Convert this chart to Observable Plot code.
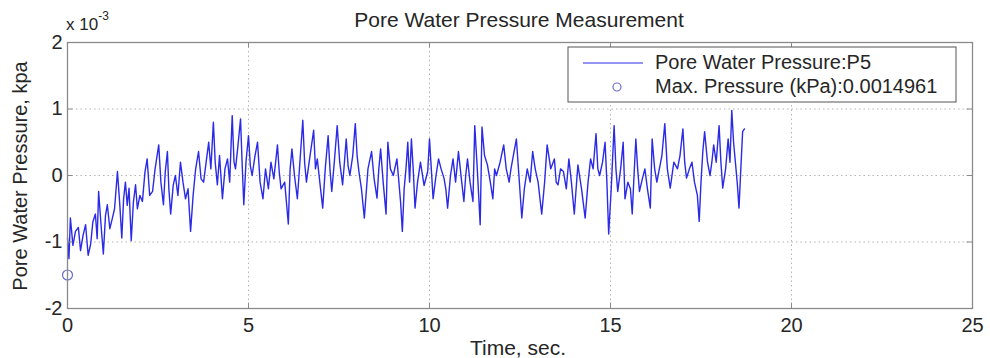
<!DOCTYPE html>
<html>
<head>
<meta charset="utf-8">
<script src="https://cdn.jsdelivr.net/npm/d3@7"></script>
<script src="https://cdn.jsdelivr.net/npm/@observablehq/plot@0.6"></script>
<style>
  html, body { margin: 0; padding: 0; background: #fff; }
  #chart { width: 990px; height: 358px; overflow: hidden; }
  svg text { font-family: "Liberation Sans", Arial, sans-serif; }
</style>
</head>
<body>
<div id="chart"></div>
<script>
// ---- data (pressure in units of 1e-3 kPa) ----
const timeSec = [
 0.00,0.04,0.08,0.15,0.22,0.30,0.36,0.43,0.50,0.57,0.64,0.70,0.77,0.82,0.86,0.92,0.99,1.05,1.10,1.17,
 1.24,1.30,1.38,1.44,1.50,1.55,1.60,1.65,1.70,1.76,1.82,1.88,1.93,2.00,2.07,2.14,2.20,2.27,2.35,2.42,
 2.52,2.58,2.65,2.70,2.76,2.80,2.85,2.92,2.98,3.05,3.12,3.19,3.26,3.33,3.40,3.47,3.54,3.62,3.69,3.76,
 3.83,3.90,3.96,4.03,4.08,4.14,4.20,4.28,4.35,4.42,4.48,4.55,4.60,4.64,4.70,4.78,4.83,4.87,4.93,5.00,
 5.05,5.10,5.18,5.25,5.32,5.40,5.47,5.55,5.62,5.70,5.80,5.85,5.90,6.00,6.10,6.15,6.20,6.27,6.35,6.42,
 6.50,6.55,6.60,6.70,6.80,6.85,6.90,6.97,7.05,7.12,7.20,7.25,7.30,7.37,7.45,7.52,7.60,7.65,7.70,7.75,
 7.80,7.88,7.95,8.00,8.05,8.12,8.20,8.30,8.40,8.47,8.55,8.60,8.65,8.72,8.80,8.85,8.92,9.00,9.10,9.20,
 9.25,9.30,9.35,9.40,9.45,9.50,9.55,9.60,9.67,9.75,9.85,9.95,10.00,10.05,10.10,10.18,10.25,10.32,10.40,10.45,
 10.50,10.58,10.65,10.72,10.80,10.88,10.95,11.00,11.05,11.12,11.20,11.25,11.32,11.40,11.45,11.52,11.60,11.68,11.75,11.80,
 11.85,11.95,12.05,12.12,12.20,12.25,12.30,12.40,12.47,12.55,12.62,12.70,12.78,12.85,12.92,13.00,13.10,13.18,13.25,13.35,
 13.45,13.50,13.55,13.62,13.70,13.78,13.85,13.92,14.00,14.05,14.10,14.20,14.30,14.38,14.45,14.52,14.60,14.65,14.70,14.78,
 14.85,14.90,14.95,15.02,15.10,15.15,15.20,15.28,15.35,15.40,15.48,15.55,15.60,15.65,15.70,15.75,15.80,15.88,15.95,16.02,
 16.10,16.15,16.22,16.28,16.35,16.42,16.50,16.57,16.65,16.75,16.85,16.92,17.00,17.05,17.10,17.18,17.25,17.32,17.40,17.45,
 17.50,17.55,17.60,17.68,17.75,17.80,17.85,17.92,18.00,18.05,18.10,18.18,18.25,18.30,18.35,18.40,18.45,18.50,18.55,18.60,
 18.65,18.70
];
const pressureE3 = [
 -0.94,-1.25,-0.64,-1.05,-0.84,-0.78,-1.13,-0.90,-0.74,-1.20,-1.03,-0.70,-0.58,-0.95,-0.24,-0.70,-1.18,-0.60,-0.44,-0.80,
 -0.64,-0.50,0.06,-0.40,-0.94,-0.35,-0.10,-0.45,-0.19,-0.98,-0.40,-0.14,-0.50,-0.30,-0.39,0.05,0.25,-0.30,-0.24,0.10,
 0.46,-0.10,-0.44,0.05,0.36,-0.20,-0.58,-0.15,0.00,-0.30,0.20,-0.10,-0.35,-0.20,-0.84,-0.30,0.10,0.36,-0.05,-0.10,
 0.20,0.50,0.10,0.80,0.20,-0.14,0.30,-0.35,0.10,0.25,-0.10,0.90,0.20,0.10,0.40,0.85,0.10,-0.44,0.20,0.60,
 0.15,0.00,0.30,0.50,-0.10,-0.35,0.10,-0.20,0.20,-0.05,0.46,0.05,-0.20,-0.10,-0.73,0.10,0.40,0.00,-0.35,0.20,
 0.83,0.20,-0.10,0.30,0.68,0.10,0.25,-0.10,-0.49,0.10,0.60,0.10,-0.24,0.20,0.75,0.20,-0.14,0.20,0.55,0.15,
 0.00,0.30,0.78,0.30,0.06,-0.20,-0.64,0.10,0.36,-0.05,-0.34,0.10,0.40,-0.10,-0.58,0.50,0.10,0.00,0.25,-0.39,
 -0.84,-0.20,0.10,0.50,-0.10,0.55,0.10,-0.49,-0.10,0.20,-0.15,0.06,0.55,0.10,-0.35,0.00,0.25,0.10,-0.04,-0.20,
 -0.49,0.00,0.25,-0.10,0.36,-0.05,-0.39,0.00,0.25,-0.10,-0.39,0.75,0.10,-0.74,0.73,0.30,0.16,-0.10,-0.35,0.10,
 0.00,0.20,0.46,0.10,-0.10,0.10,0.25,0.55,0.00,-0.64,-0.20,0.10,-0.10,0.36,0.10,-0.10,-0.58,-0.10,0.46,0.10,
 0.25,-0.10,-0.14,0.10,0.06,-0.20,0.25,-0.10,-0.58,-0.20,0.16,-0.20,-0.64,-0.10,0.25,0.10,0.63,0.10,0.00,0.20,
 0.50,-0.10,-0.88,-0.20,0.75,0.10,-0.24,0.10,0.50,-0.35,-0.10,-0.20,-0.58,0.00,0.55,0.10,-0.24,-0.05,0.10,-0.20,
 -0.49,0.55,0.10,-0.10,0.10,0.30,0.78,0.10,-0.19,0.20,0.10,0.30,0.70,0.20,-0.04,0.10,0.20,-0.10,-0.30,-0.69,
 -0.10,0.36,0.66,0.20,0.00,0.20,0.46,0.20,0.75,0.20,-0.19,0.10,0.55,0.20,0.98,0.50,0.20,-0.10,-0.49,0.10,
 0.66,0.70
];
const maxMarkerTime = [0];
const maxMarkerValueE3 = [-1.4961];
const xTicks = [0, 5, 10, 15, 20, 25];
const yTicks = [-2, -1, 0, 1, 2];
const titleText = "Pore Water Pressure Measurement";
const xLabel = "Time, sec.";
const yLabel = "Pore Water Pressure, kpa";
const legendLine = "Pore Water Pressure:P5";
const legendMax = "Max. Pressure (kPa):0.0014961";

const series = timeSec.map((t, i) => ({t, p: pressureE3[i]}));
const maxPts = maxMarkerTime.map((t, i) => ({t, p: maxMarkerValueE3[i]}));

const lineColor = "#2a2ae8";
const axisColor = "#8a8a8a";
const gridColor = "#b4b4b4";
const textColor = "#262626";

const chart = Plot.plot({
  width: 990,
  height: 358,
  marginLeft: 67,
  marginRight: 18,
  marginTop: 42,
  marginBottom: 50,
  style: {background: "#fff", color: textColor, fontFamily: "'Liberation Sans', Arial, sans-serif", fontSize: "20px"},
  x: {domain: [0, 25], label: null},
  y: {domain: [-2, 2], label: null},
  marks: [
    Plot.gridX(xTicks, {stroke: gridColor, strokeOpacity: 1, strokeDasharray: "1.5,3"}),
    Plot.gridY(yTicks, {stroke: gridColor, strokeOpacity: 1, strokeDasharray: "1.5,3"}),
    Plot.line(series, {x: "t", y: "p", stroke: lineColor, strokeWidth: 1.4}),
    Plot.dot(maxPts, {x: "t", y: "p", r: 5, stroke: "#6a6ad0", strokeWidth: 1.2, fill: "none"}),
    Plot.ruleX(xTicks, {y1: -2, y2: -1.92, stroke: axisColor}),
    Plot.ruleX(xTicks, {y1: 2, y2: 1.92, stroke: axisColor}),
    Plot.ruleY(yTicks, {x1: 0, x2: 0.15, stroke: axisColor}),
    Plot.ruleY(yTicks, {x1: 25, x2: 24.85, stroke: axisColor}),
    Plot.frame({stroke: axisColor, strokeWidth: 1.3}),
    Plot.axisX(xTicks, {tickSize: 0, tickPadding: 9, fontSize: 20, fill: textColor, label: null, tickFormat: d => String(d)}),
    Plot.axisY(yTicks, {tickSize: 0, tickPadding: 5, fontSize: 20, fill: textColor, label: null, tickFormat: d => String(d)})
  ]
});

const svg = d3.select(chart);
// title
svg.append("text").attr("x", 519).attr("y", 27).attr("text-anchor", "middle")
  .attr("font-size", 21).attr("fill", textColor).text(titleText);
// x label
svg.append("text").attr("x", 518).attr("y", 355).attr("text-anchor", "middle")
  .attr("font-size", 21).attr("fill", textColor).text(xLabel);
// y label
svg.append("text").attr("transform", "translate(27,176) rotate(-90)").attr("text-anchor", "middle")
  .attr("font-size", 20).attr("fill", textColor).text(yLabel);
// exponent label
const ex = svg.append("text").attr("x", 66).attr("y", 30).attr("text-anchor", "start")
  .attr("font-size", 17).attr("fill", textColor);
ex.append("tspan").text("x 10");
ex.append("tspan").attr("dy", -10).attr("font-size", 12).text("-3");
// legend
const lg = svg.append("g");
lg.append("rect").attr("x", 568).attr("y", 47).attr("width", 388).attr("height", 55)
  .attr("fill", "#fff").attr("stroke", "#555").attr("stroke-width", 1);
lg.append("line").attr("x1", 583).attr("x2", 643).attr("y1", 63).attr("y2", 63)
  .attr("stroke", lineColor).attr("stroke-width", 1.2);
lg.append("circle").attr("cx", 617).attr("cy", 87).attr("r", 4)
  .attr("fill", "none").attr("stroke", "#6a6ad0").attr("stroke-width", 1.2);
lg.append("text").attr("x", 655).attr("y", 69).attr("text-anchor", "start")
  .attr("font-size", 20).attr("fill", textColor).text(legendLine);
lg.append("text").attr("x", 655).attr("y", 93).attr("text-anchor", "start")
  .attr("font-size", 20).attr("fill", textColor).text(legendMax);

document.getElementById("chart").appendChild(chart);
</script>
</body>
</html>
